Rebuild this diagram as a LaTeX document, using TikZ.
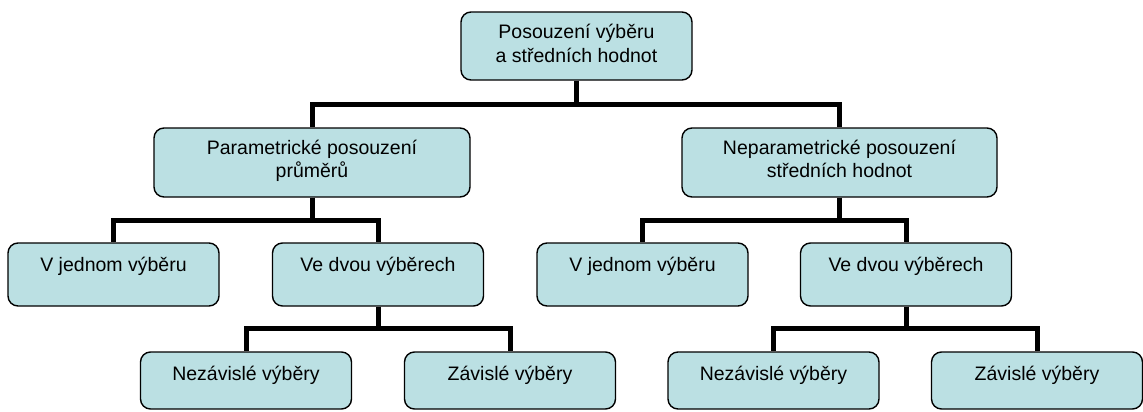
\documentclass[tikz,border=0pt]{standalone}
\usepackage{fontspec}
\setmainfont{Liberation Sans}
\definecolor{boxfill}{RGB}{187,224,227}
\begin{document}
\begin{tikzpicture}[x=1pt,y=-1pt,
  box/.style={draw=black, line width=1.4pt, fill=boxfill, rounded corners=10pt, inner sep=0pt},
  lbl/.style={font=\fontsize{19.5}{24}\selectfont, anchor=base, align=center, inner sep=0pt},
  conn/.style={line width=5pt, black}]
\useasboundingbox (0,0) rectangle (1143,412);
% boxes
\node[box, minimum width=231pt, minimum height=68pt] (top) at (576.5,46) {};
\node[box, minimum width=316pt, minimum height=69pt] (par) at (312,162.5) {};
\node[box, minimum width=315pt, minimum height=69pt] (nepar) at (839.5,162.5) {};
\node[box, minimum width=211pt, minimum height=63pt] (vj1) at (113.5,274.5) {};
\node[box, minimum width=211pt, minimum height=63pt] (vd1) at (378,274.5) {};
\node[box, minimum width=211pt, minimum height=63pt] (vj2) at (642.5,274.5) {};
\node[box, minimum width=211pt, minimum height=63pt] (vd2) at (906,274.5) {};
\node[box, minimum width=211pt, minimum height=57pt] (nz1) at (246,380.5) {};
\node[box, minimum width=211pt, minimum height=57pt] (zv1) at (510,380.5) {};
\node[box, minimum width=211pt, minimum height=57pt] (nz2) at (773.5,380.5) {};
\node[box, minimum width=211pt, minimum height=57pt] (zv2) at (1037,380.5) {};
% labels
\node[lbl] (ttop1) at ([yshift=-27pt]top.north) {Posouzení výběru};
\node[lbl] (ttop2) at ([yshift=-51pt]top.north) {a středních hodnot};
\node[lbl] (tpar1) at ([yshift=-27pt]par.north) {Parametrické posouzení};
\node[lbl] (tpar2) at ([yshift=-50pt]par.north) {průměrů};
\node[lbl] (tnep1) at ([yshift=-27pt]nepar.north) {Neparametrické posouzení};
\node[lbl] (tnep2) at ([yshift=-50pt]nepar.north) {středních hodnot};
\node[lbl] (tvj1) at ([yshift=-29pt]vj1.north) {V jednom výběru};
\node[lbl] (tvd1) at ([yshift=-29pt]vd1.north) {Ve dvou výběrech};
\node[lbl] (tvj2) at ([yshift=-29pt]vj2.north) {V jednom výběru};
\node[lbl] (tvd2) at ([yshift=-29pt]vd2.north) {Ve dvou výběrech};
\node[lbl] (tnz1) at ([yshift=-29pt]nz1.north) {Nezávislé výběry};
\node[lbl] (tzv1) at ([yshift=-29pt]zv1.north) {Závislé výběry};
\node[lbl] (tnz2) at ([yshift=-29pt]nz2.north) {Nezávislé výběry};
\node[lbl] (tzv2) at ([yshift=-29pt]zv2.north) {Závislé výběry};
% connectors
\draw[conn] (top.south) -- (top.south |- 0,104) -| (par.north);
\draw[conn] (top.south) -- (top.south |- 0,104) -| (nepar.north);
\draw[conn] (par.south) -- (par.south |- 0,220) -| (vj1.north);
\draw[conn] (par.south) -- (par.south |- 0,220) -| (vd1.north);
\draw[conn] (nepar.south) -- (nepar.south |- 0,220) -| (vj2.north);
\draw[conn] (nepar.south) -- (nepar.south |- 0,220) -| (vd2.north);
\draw[conn] (vd1.south) -- (vd1.south |- 0,328) -| (nz1.north);
\draw[conn] (vd1.south) -- (vd1.south |- 0,328) -| (zv1.north);
\draw[conn] (vd2.south) -- (vd2.south |- 0,328) -| (nz2.north);
\draw[conn] (vd2.south) -- (vd2.south |- 0,328) -| (zv2.north);
\end{tikzpicture}
\end{document}
